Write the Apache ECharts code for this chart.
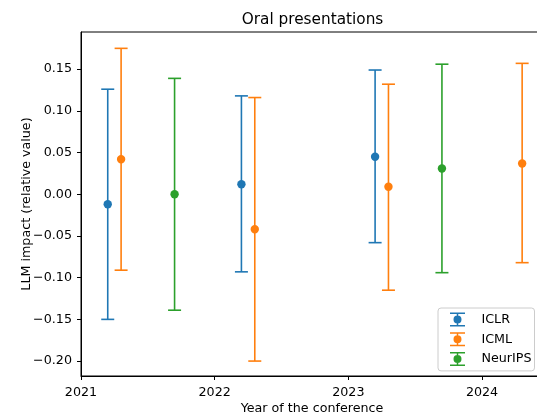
<!DOCTYPE html>
<html>
<head>
<meta charset="utf-8">
<script src="https://cdn.jsdelivr.net/npm/echarts@6/dist/echarts.min.js"></script>
<style>
html,body{margin:0;padding:0;background:#fff;}
#chart{width:537px;height:417px;}
</style>
</head>
<body>
<div id="chart"></div>
<script>
// ---- data ----
const seriesNames = ['ICLR', 'ICML', 'NeurIPS'];
const iclrYears = [2021.2, 2022.2, 2023.2];
const iclrValues = [-0.012, 0.012, 0.045];
const iclrLower = [-0.150, -0.093, -0.058];
const iclrUpper = [0.126, 0.118, 0.149];

const icmlYears = [2021.3, 2022.3, 2023.3, 2024.3];
const icmlValues = [0.042, -0.042, 0.009, 0.037];
const icmlLower = [-0.091, -0.200, -0.115, -0.082];
const icmlUpper = [0.175, 0.116, 0.132, 0.157];

const neuripsYears = [2021.7, 2023.7];
const neuripsValues = [0.000, 0.031];
const neuripsLower = [-0.139, -0.094];
const neuripsUpper = [0.139, 0.156];

const xTickValues = [2021, 2022, 2023, 2024];
const yTickValues = [-0.20, -0.15, -0.10, -0.05, 0.00, 0.05, 0.10, 0.15];
const yTickLabels = ['\u22120.20', '\u22120.15', '\u22120.10', '\u22120.05', '0.00', '0.05', '0.10', '0.15'];

const titleText = 'Oral presentations';
const xAxisName = 'Year of the conference';
const yAxisName = 'LLM impact (relative value)';

// ---- styling ----
const colors = ['#1f77b4', '#ff7f0e', '#2ca02c'];
const FONT = 'DejaVu Sans';
const TICK_FS = 12.7;

function rows(xs, ys, lo, hi) {
  return xs.map((x, i) => [x, ys[i], lo[i], hi[i]]);
}
const allData = [
  rows(iclrYears, iclrValues, iclrLower, iclrUpper),
  rows(icmlYears, icmlValues, icmlLower, icmlUpper),
  rows(neuripsYears, neuripsValues, neuripsLower, neuripsUpper)
];

function renderErr(params, api) {
  const x = api.value(0), y = api.value(1), lo = api.value(2), hi = api.value(3);
  const top = api.coord([x, hi]);
  const bot = api.coord([x, lo]);
  const mid = api.coord([x, y]);
  const color = api.visual('color');
  const cap = 6.5;
  const ls = { stroke: color, lineWidth: 1.6 };
  return {
    type: 'group',
    children: [
      { type: 'line', shape: { x1: top[0], y1: top[1], x2: bot[0], y2: bot[1] }, style: ls },
      { type: 'line', shape: { x1: top[0] - cap, y1: top[1], x2: top[0] + cap, y2: top[1] }, style: ls },
      { type: 'line', shape: { x1: bot[0] - cap, y1: bot[1], x2: bot[0] + cap, y2: bot[1] }, style: ls },
      { type: 'circle', shape: { cx: mid[0], cy: mid[1], r: 4.2 }, style: { fill: color } }
    ]
  };
}

const legendIcon = 'path://M0 0H15V1.5H0Z M0 12.5H15V14H0Z M6.75 0H8.25V14H6.75Z M3.5 7A4 4 0 1 1 11.5 7A4 4 0 1 1 3.5 7Z';

const chart = echarts.init(document.getElementById('chart'), null, { renderer: 'canvas' });
chart.setOption({
  animation: false,
  backgroundColor: '#fff',
  textStyle: { fontFamily: FONT },
  title: {
    text: titleText,
    left: 312.5,
    textAlign: 'center',
    top: 13,
    padding: 0,
    textStyle: { fontFamily: FONT, fontSize: 15.3, fontWeight: 'normal', color: '#000' }
  },
  grid: {
    left: 81, top: 32, width: 462, height: 344,
    show: true, borderColor: '#000', borderWidth: 1,
    containLabel: false, outerBoundsMode: 'none'
  },
  legend: {
    orient: 'vertical',
    left: 438, top: 308,
    data: seriesNames.map(n => ({ name: n, icon: legendIcon })),
    itemWidth: 38, itemHeight: 14, itemGap: 5.7,
    padding: [4.5, 3, 5, 12],
    backgroundColor: 'rgba(255,255,255,0.8)',
    borderColor: '#cccccc', borderWidth: 1, borderRadius: 3,
    selectedMode: false,
    textStyle: { fontFamily: FONT, fontSize: TICK_FS, color: '#000' }
  },
  xAxis: {
    type: 'value',
    min: 2021, max: 2024.456,
    name: xAxisName,
    nameLocation: 'middle',
    nameGap: 26,
    nameMoveOverlap: false,
    nameTextStyle: { fontFamily: FONT, fontSize: TICK_FS, color: '#000' },
    axisLine: { show: true, onZero: false, lineStyle: { color: '#000', width: 1 } },
    axisTick: { show: true, inside: false, length: 4, lineStyle: { color: '#000', width: 1 }, customValues: xTickValues },
    axisLabel: { margin: 10, fontFamily: FONT, fontSize: TICK_FS, color: '#000', customValues: xTickValues, formatter: v => String(Math.round(v)) },
    splitLine: { show: false }
  },
  yAxis: {
    type: 'value',
    min: -0.2179, max: 0.1946,
    name: yAxisName,
    nameLocation: 'middle',
    nameRotate: 90,
    nameGap: 48,
    nameMoveOverlap: false,
    nameTextStyle: { fontFamily: FONT, fontSize: TICK_FS, color: '#000' },
    axisLine: { show: true, onZero: false, lineStyle: { color: '#000', width: 1 } },
    axisTick: { show: true, inside: false, length: 4, lineStyle: { color: '#000', width: 1 }, customValues: yTickValues },
    axisLabel: {
      margin: 9, fontFamily: FONT, fontSize: TICK_FS, color: '#000', customValues: yTickValues,
      formatter: v => {
        const i = yTickValues.findIndex(t => Math.abs(t - v) < 1e-6);
        return i >= 0 ? yTickLabels[i] : '';
      }
    },
    splitLine: { show: false }
  },
  series: seriesNames.map((n, i) => ({
    name: n,
    type: 'custom',
    renderItem: renderErr,
    itemStyle: { color: colors[i] },
    encode: { x: 0, y: 1 },
    data: allData[i],
    clip: false,
    z: 2 + i
  }))
});
</script>
</body>
</html>
